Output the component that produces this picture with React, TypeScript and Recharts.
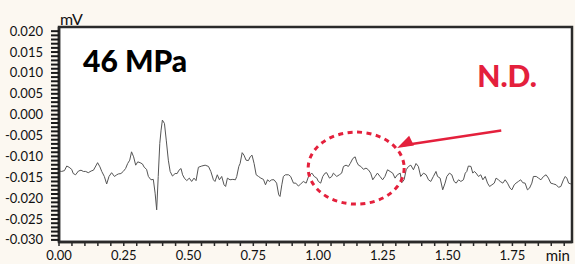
import React from "react";
import {
  LineChart,
  Line,
  XAxis,
  YAxis,
  CartesianGrid,
  ReferenceArea,
  ReferenceDot,
  ReferenceLine,
} from "recharts";

// retention time (min)
const times = [
  0.002, 0.010, 0.021, 0.030, 0.039, 0.049, 0.055, 0.064, 0.075, 0.085, 0.094, 0.103, 0.113, 0.124, 0.133,
  0.142, 0.149, 0.158, 0.165, 0.175, 0.184, 0.193, 0.203, 0.214, 0.223, 0.229, 0.239, 0.248, 0.257, 0.265,
  0.273, 0.280, 0.288, 0.296, 0.304, 0.313, 0.322, 0.329, 0.338, 0.345, 0.355, 0.364, 0.371, 0.377, 0.383,
  0.389, 0.394, 0.399, 0.407, 0.414, 0.422, 0.429, 0.438, 0.448, 0.456, 0.463, 0.471, 0.477, 0.484,
  0.493, 0.503, 0.512, 0.521, 0.529, 0.538, 0.551, 0.564, 0.577, 0.586, 0.596, 0.602, 0.611, 0.619, 0.628,
  0.637, 0.643, 0.650, 0.660, 0.671, 0.681, 0.686, 0.694, 0.699, 0.707, 0.714, 0.722, 0.731, 0.738, 0.745,
  0.753, 0.761, 0.770, 0.779, 0.789, 0.797, 0.805, 0.812, 0.821, 0.830, 0.840, 0.848, 0.853, 0.860, 0.866,
  0.874, 0.886, 0.894, 0.905, 0.914, 0.924, 0.933, 0.943, 0.954, 0.963,
  0.976, 0.985, 0.995, 1.001, 1.010, 1.018, 1.027, 1.033, 1.044, 1.053, 1.059, 1.072, 1.082, 1.091, 1.098,
  1.108, 1.117, 1.124, 1.134, 1.143, 1.149, 1.156, 1.165, 1.175, 1.185, 1.194, 1.203, 1.211, 1.220, 1.229,
  1.239, 1.249, 1.258, 1.268, 1.278, 1.288, 1.297, 1.306, 1.317, 1.323, 1.332, 1.340, 1.349, 1.358, 1.368,
  1.378, 1.387, 1.396, 1.407, 1.417, 1.426, 1.435, 1.445, 1.455,
  1.461, 1.471, 1.481, 1.490, 1.497, 1.507, 1.516, 1.525, 1.533, 1.542, 1.551, 1.561, 1.568, 1.574, 1.580,
  1.590, 1.597, 1.603, 1.610, 1.619, 1.628, 1.636, 1.645, 1.654, 1.662, 1.671, 1.680, 1.687, 1.696, 1.703,
  1.713, 1.722, 1.731, 1.741, 1.748, 1.757, 1.764, 1.773, 1.782, 1.790, 1.799, 1.808, 1.816, 1.825, 1.831,
  1.842, 1.851, 1.860, 1.870, 1.880, 1.889, 1.898, 1.909, 1.919, 1.928, 1.937, 1.947, 1.954, 1.960, 1.967,
  1.976,
];

// detector signal (mV)
const signal = [
  -0.0135, -0.0136, -0.0134, -0.0123, -0.0126, -0.0131, -0.0141, -0.0144, -0.0135, -0.0133, -0.0136, -0.0136, -0.0139, -0.0135, -0.0133,
  -0.0123, -0.0115, -0.0125, -0.0136, -0.0148, -0.0166, -0.0148, -0.0139, -0.0148, -0.0144, -0.0142, -0.0141, -0.0136, -0.0129, -0.0117,
  -0.0109, -0.0089, -0.0101, -0.0121, -0.0113, -0.0115, -0.0118, -0.0126, -0.0131, -0.0148, -0.0156, -0.0155, -0.0188, -0.0228, -0.0148,
  -0.0069, -0.0037, -0.0013, -0.0021, -0.0061, -0.0109, -0.0136, -0.0147, -0.0141, -0.0141, -0.0133, -0.0129, -0.0144, -0.0152,
  -0.0158, -0.0152, -0.0160, -0.0152, -0.0158, -0.0126, -0.0123, -0.0121, -0.0124, -0.0136, -0.0156, -0.0160, -0.0144, -0.0156, -0.0148,
  -0.0168, -0.0172, -0.0152, -0.0156, -0.0155, -0.0156, -0.0148, -0.0124, -0.0117, -0.0091, -0.0097, -0.0109, -0.0110, -0.0101, -0.0097,
  -0.0117, -0.0144, -0.0148, -0.0152, -0.0155, -0.0168, -0.0156, -0.0160, -0.0156, -0.0156, -0.0164, -0.0192, -0.0196, -0.0168, -0.0148,
  -0.0144, -0.0144, -0.0148, -0.0164, -0.0164, -0.0171, -0.0166, -0.0160, -0.0164, -0.0148,
  -0.0140, -0.0148, -0.0152, -0.0160, -0.0164, -0.0148, -0.0140, -0.0139, -0.0152, -0.0148, -0.0140, -0.0148, -0.0144, -0.0140, -0.0124,
  -0.0121, -0.0124, -0.0117, -0.0105, -0.0101, -0.0113, -0.0121, -0.0124, -0.0131, -0.0128, -0.0132, -0.0140, -0.0156, -0.0148, -0.0140,
  -0.0148, -0.0156, -0.0148, -0.0132, -0.0136, -0.0140, -0.0152, -0.0144, -0.0140, -0.0163, -0.0156, -0.0132, -0.0124, -0.0121, -0.0132,
  -0.0117, -0.0124, -0.0148, -0.0140, -0.0144, -0.0156, -0.0160, -0.0148, -0.0136,
  -0.0148, -0.0152, -0.0180, -0.0164, -0.0148, -0.0140, -0.0144, -0.0160, -0.0164, -0.0156, -0.0160, -0.0156, -0.0140, -0.0136, -0.0123,
  -0.0124, -0.0140, -0.0136, -0.0140, -0.0148, -0.0144, -0.0156, -0.0148, -0.0164, -0.0172, -0.0168, -0.0164, -0.0152, -0.0156, -0.0160,
  -0.0164, -0.0156, -0.0164, -0.0176, -0.0180, -0.0168, -0.0164, -0.0160, -0.0156, -0.0163, -0.0164, -0.0180, -0.0176, -0.0164, -0.0148,
  -0.0148, -0.0152, -0.0156, -0.0148, -0.0144, -0.0152, -0.0164, -0.0166, -0.0168, -0.0174, -0.0172, -0.0156, -0.0148, -0.0152, -0.0164,
  -0.0166,
];

const xTicks = [0, 0.05, 0.1, 0.15, 0.2, 0.25, 0.3, 0.35, 0.4, 0.45, 0.5, 0.55, 0.6, 0.65, 0.7, 0.75, 0.8, 0.85, 0.9, 0.95,
  1.0, 1.05, 1.1, 1.15, 1.2, 1.25, 1.3, 1.35, 1.4, 1.45, 1.5, 1.55, 1.6, 1.65, 1.7, 1.75, 1.8, 1.85, 1.9, 1.95];
const xLabelTicks = [0, 0.25, 0.5, 0.75, 1.0, 1.25, 1.5, 1.75];

const yLabelTicks = [0.02, 0.015, 0.01, 0.005, 0, -0.005, -0.01, -0.015, -0.02, -0.025, -0.03];
const yTicks: number[] = [];
for (let i = -30; i <= 20; i++) yTicks.push(i / 1000);

const X_DOMAIN: [number, number] = [0, 1.98];
const Y_DOMAIN: [number, number] = [-0.0305, 0.021];

const RED = "#e4203c";
const FONT = "Lato, 'Open Sans', sans-serif";

const data = times.map((t, i) => ({ t, v: signal[i] }));

const near = (a: number, list: number[]) => list.some((b) => Math.abs(a - b) < 1e-6);

const YTick = (props: any) => {
  const { x, y, payload } = props;
  if (!near(payload.value, yLabelTicks)) return null;
  return (
    <text x={x} y={y} dy={4.5} textAnchor="end" fontSize={13} fontFamily={FONT} fill="#111">
      {payload.value.toFixed(3)}
    </text>
  );
};

const XTick = (props: any) => {
  const { x, y, payload } = props;
  if (!near(payload.value, xLabelTicks)) return null;
  return (
    <text x={x} y={y} dy={12} textAnchor="middle" fontSize={13} fontFamily={FONT} fill="#111">
      {payload.value.toFixed(2)}
    </text>
  );
};

export default function App() {
  return (
    <div
      style={{
        position: "absolute",
        left: 0,
        top: 0,
        width: 575,
        height: 264,
        background: "#fcf8f1",
      }}
    >
      <LineChart width={575} height={264} data={data} margin={{ top: 27, right: 3, bottom: 0, left: 0 }}>
        <CartesianGrid fill="#ffffff" horizontal={false} vertical={false} />
        <XAxis
          dataKey="t"
          type="number"
          domain={X_DOMAIN}
          ticks={xTicks}
          interval={0}
          allowDataOverflow
          height={22}
          tickSize={4}
          tickMargin={2}
          axisLine={{ stroke: "#2a2a2a", strokeWidth: 2.5 }}
          tickLine={{ stroke: "#2a2a2a", strokeWidth: 1.5 }}
          tick={<XTick />}
        />
        <YAxis
          type="number"
          domain={Y_DOMAIN}
          ticks={yTicks}
          interval={0}
          allowDataOverflow
          width={59}
          tickSize={8}
          tickMargin={8}
          axisLine={{ stroke: "#2a2a2a", strokeWidth: 2.5 }}
          tickLine={{ stroke: "#1a1a1a", strokeWidth: 2 }}
          tick={<YTick />}
        />
        <ReferenceArea
          x1={X_DOMAIN[0]}
          x2={X_DOMAIN[1]}
          y1={Y_DOMAIN[0]}
          y2={Y_DOMAIN[1]}
          fill="none"
          fillOpacity={0}
          stroke="#2a2a2a"
          strokeWidth={2.5}
          ifOverflow="visible"
        />
        <Line
          type="linear"
          dataKey="v"
          stroke="#555555"
          strokeWidth={1}
          dot={false}
          isAnimationActive={false}
        />
        <ReferenceDot
          x={1.147}
          y={-0.0128}
          ifOverflow="visible"
          shape={(p: any) => (
            <ellipse cx={p.cx} cy={p.cy} rx={48} ry={36} fill="none" stroke={RED} strokeWidth={3} strokeDasharray="5 4.5" />
          )}
        />
        <ReferenceLine
          segment={[
            { x: 1.707, y: -0.0038 },
            { x: 1.33, y: -0.0073 },
          ]}
          stroke={RED}
          strokeWidth={2.5}
          ifOverflow="visible"
        />
        <ReferenceDot
          x={1.305}
          y={-0.008}
          ifOverflow="visible"
          shape={(p: any) => (
            <polygon
              points={`${p.cx},${p.cy} ${p.cx + 16.8},${p.cy - 2.5} ${p.cx + 12},${p.cy - 12.3}`}
              fill={RED}
            />
          )}
        />
        <ReferenceDot
          x={0.0927}
          y={0.0102}
          ifOverflow="visible"
          shape={(p: any) => (
            <text x={p.cx} y={p.cy} fontSize={30} fontWeight={900} fontFamily={FONT} fill="#000">
              46 MPa
            </text>
          )}
        />
        <ReferenceDot
          x={1.614}
          y={0.0066}
          ifOverflow="visible"
          shape={(p: any) => (
            <text x={p.cx} y={p.cy} fontSize={30} fontWeight={900} fontFamily={FONT} fill={RED}>
              N.D.
            </text>
          )}
        />
        <ReferenceDot
          x={0}
          y={Y_DOMAIN[1]}
          ifOverflow="visible"
          shape={(p: any) => (
            <text x={p.cx + 1} y={p.cy - 2} fontSize={16} fontFamily={FONT} fill="#111">
              mV
            </text>
          )}
        />
        <ReferenceDot
          x={X_DOMAIN[1]}
          y={Y_DOMAIN[0]}
          ifOverflow="visible"
          shape={(p: any) => (
            <text x={p.cx - 2} y={p.cy + 19} textAnchor="end" fontSize={15} fontFamily={FONT} fill="#111">
              min
            </text>
          )}
        />
      </LineChart>
    </div>
  );
}
